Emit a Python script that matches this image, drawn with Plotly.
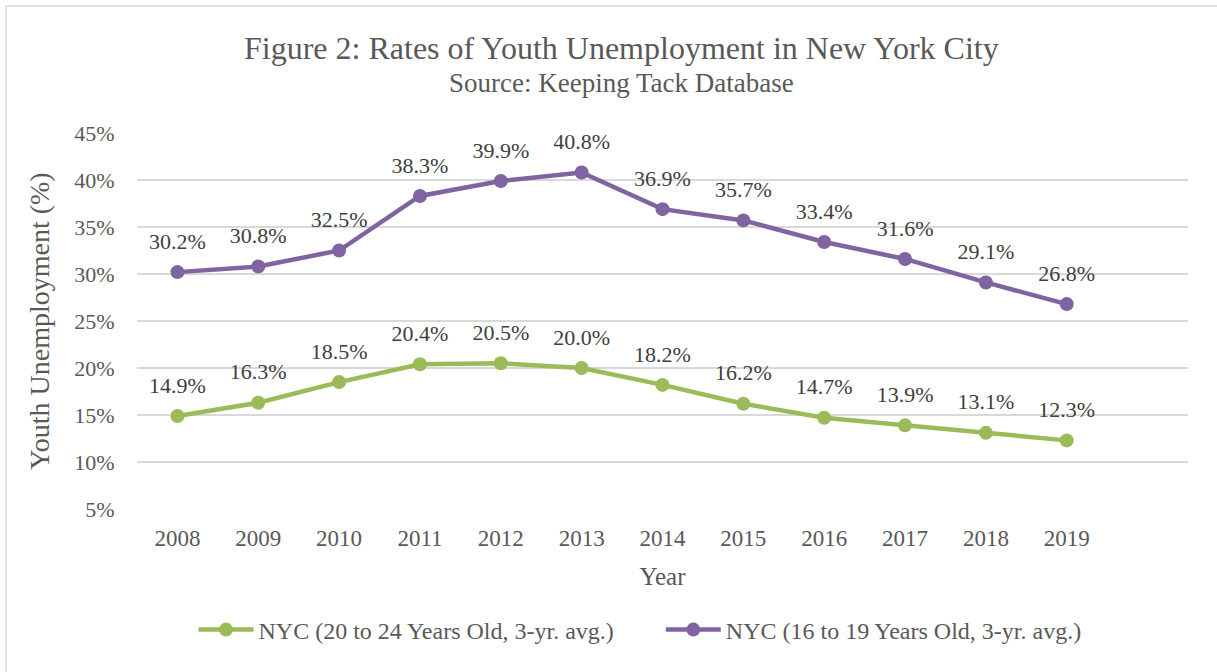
import plotly.graph_objects as go

years = ["2008", "2009", "2010", "2011", "2012", "2013", "2014", "2015", "2016", "2017", "2018", "2019"]
age_20_24 = [14.9, 16.3, 18.5, 20.4, 20.5, 20.0, 18.2, 16.2, 14.7, 13.9, 13.1, 12.3]
age_16_19 = [30.2, 30.8, 32.5, 38.3, 39.9, 40.8, 36.9, 35.7, 33.4, 31.6, 29.1, 26.8]
y_ticks = [5, 10, 15, 20, 25, 30, 35, 40, 45]
y_tick_labels = [f"{v}%" for v in y_ticks]

GREEN = "#9BBB59"
PURPLE = "#8064A2"
FONT = "Liberation Serif"
GREY = "#595959"

fig = go.Figure()
fig.add_trace(go.Scatter(
    x=years, y=age_20_24, mode="lines+markers",
    name="NYC (20 to 24 Years Old, 3-yr. avg.)" + "\u00a0" * 7,
    line=dict(color=GREEN, width=4.5), marker=dict(color=GREEN, size=14),
))
fig.add_trace(go.Scatter(
    x=years, y=age_16_19, mode="lines+markers",
    name="NYC (16 to 19 Years Old, 3-yr. avg.)",
    line=dict(color=PURPLE, width=4.5), marker=dict(color=PURPLE, size=14),
))

# data labels (transparent markers give the text a larger offset above each point)
for series in (age_20_24, age_16_19):
    fig.add_trace(go.Scatter(
        x=years, y=series, mode="markers+text",
        text=[f"{v:.1f}%" for v in series], textposition="top center",
        textfont=dict(family=FONT, size=22, color="#404040"),
        marker=dict(size=27, opacity=0), showlegend=False, hoverinfo="skip",
        cliponaxis=False,
    ))

W, H = 1217, 672
L, R, T, B = 137, 29, 133, 163
pw, ph = W - L - R, H - T - B
def px_x(p):
    return (p - L) / pw
def px_y(p):
    return (H - B - p) / ph

fig.add_shape(type="rect", xref="paper", yref="paper",
              x0=px_x(6), x1=px_x(1230), y0=px_y(6), y1=px_y(690),
              line=dict(color="#D9D9D9", width=1.5), layer="below")

fig.add_annotation(xref="paper", yref="paper", x=px_x(621), y=px_y(48),
                   text="Figure 2: Rates of Youth Unemployment in New York City",
                   showarrow=False, xanchor="center", yanchor="middle",
                   font=dict(family=FONT, size=32, color=GREY))
fig.add_annotation(xref="paper", yref="paper", x=px_x(621), y=px_y(83),
                   text="Source: Keeping Tack Database",
                   showarrow=False, xanchor="center", yanchor="middle",
                   font=dict(family=FONT, size=27, color=GREY))

fig.update_layout(
    width=W, height=H, autosize=False,
    margin=dict(l=L, r=R, t=T, b=B, autoexpand=False),
    paper_bgcolor="white", plot_bgcolor="white",
    font=dict(family=FONT, color=GREY),
    showlegend=True,
    legend=dict(orientation="h", x=px_x(640), xanchor="center",
                y=px_y(630), yanchor="middle",
                font=dict(family=FONT, size=24, color=GREY),
                itemwidth=55, tracegroupgap=0),
    xaxis=dict(
        type="category", range=[-0.5, 12.5],
        showgrid=False, showline=False, zeroline=False,
        ticks="outside", ticklen=8, tickcolor="rgba(0,0,0,0)",
        tickfont=dict(family=FONT, size=23, color=GREY),
        title=dict(text="Year", font=dict(family=FONT, size=25, color=GREY), standoff=17),
    ),
    yaxis=dict(
        range=[5, 45], tickvals=y_ticks, ticktext=y_tick_labels,
        showgrid=True, gridcolor="#D9D9D9", gridwidth=1.5,
        showline=False, zeroline=False, ticks="outside", ticklen=17, tickcolor="rgba(0,0,0,0)",
        tickfont=dict(family=FONT, size=22, color=GREY),
        title=dict(text="Youth Unemployment (%)", font=dict(family=FONT, size=28, color=GREY), standoff=16),
    ),
)

fig.write_html("out.html")
